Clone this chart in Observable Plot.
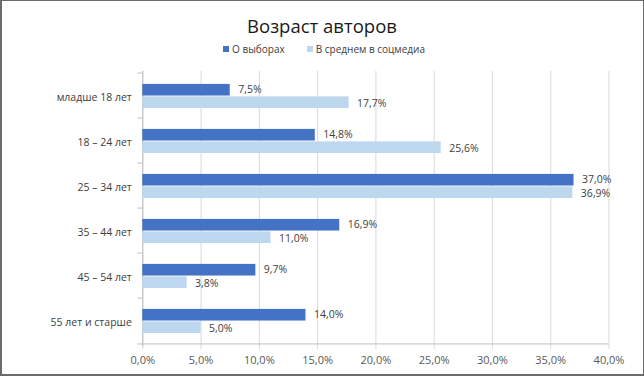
<!DOCTYPE html>
<html>
<head>
<meta charset="utf-8">
<script src="https://cdn.jsdelivr.net/npm/d3@7"></script>
<script src="https://cdn.jsdelivr.net/npm/@observablehq/plot@0.6"></script>
<style>
  html, body { margin: 0; padding: 0; background: #fff; }
  #wrap { position: relative; width: 644px; height: 376px; overflow: hidden; font-family: "Open Sans", sans-serif; background: #fff; }
  #frame { position: absolute; left: 0; top: 0; right: 0; bottom: 0; box-sizing: border-box;
           border-style: solid; border-color: #6b6b6b; border-width: 1px 1px 2px 2px; pointer-events: none; }
  #title { position: absolute; left: 0; width: 644px; top: 14px; text-align: center; font-size: 18.5px; color: #1a1a1a; line-height: 24px; }
  #legend { position: absolute; left: 2px; width: 644px; top: 41px; text-align: center; font-size: 10px; color: #404040; line-height: 16px; }
  #legend span.item { display: inline-block; margin: 0 11px; }
  #legend span.sw { display: inline-block; width: 6px; height: 6px; margin-right: 3px; vertical-align: 1px; }
  #chart { position: absolute; left: 0; top: 60px; }
</style>
</head>
<body>
<div id="wrap">
  <div id="title"></div>
  <div id="legend"></div>
  <div id="chart"></div>
  <div id="frame"></div>
</div>
<script>
const titleText = "Возраст авторов";
const categories = ["младше 18 лет", "18 – 24 лет", "25 – 34 лет", "35 – 44 лет", "45 – 54 лет", "55 лет и старше"];
const seriesNames = ["О выборах", "В среднем в соцмедиа"];
const vybory = [7.5, 14.8, 37.0, 16.9, 9.7, 14.0];
const socmedia = [17.7, 25.6, 36.9, 11.0, 3.8, 5.0];
const xTicks = [0, 5, 10, 15, 20, 25, 30, 35, 40];
const colors = ["#4472C4", "#BDD7EE"];

const fmt = v => v.toFixed(1).replace(".", ",") + "%";

const data = categories.flatMap((c, i) => [
  {cat: c, series: seriesNames[0], value: vybory[i]},
  {cat: c, series: seriesNames[1], value: socmedia[i]}
]);
const s0 = data.filter(d => d.series === seriesNames[0]);
const s1 = data.filter(d => d.series === seriesNames[1]);

document.getElementById("title").textContent = titleText;
document.getElementById("legend").innerHTML = seriesNames.map((s, i) =>
  `<span class="item"><span class="sw" style="background:${colors[i]}"></span>${s}</span>`).join("");

const W = 644, H = 316, mTop = 10.8, mBottom = 30, mLeft = 142.3, mRight = 35.5;
const band = (H - mTop - mBottom) / categories.length;
const gapTop = 10.9, barH = 12.5;

const chart = Plot.plot({
  width: W, height: H,
  marginTop: mTop, marginBottom: mBottom, marginLeft: mLeft, marginRight: mRight,
  style: {fontFamily: "'Open Sans', sans-serif", fontSize: "10.5px", color: "#404040", background: "transparent"},
  x: {domain: [0, 40], label: null},
  y: {domain: categories, padding: 0, label: null},
  color: {domain: seriesNames, range: colors},
  marks: [
    Plot.gridX({ticks: xTicks, stroke: "#d9d9d9", strokeOpacity: 1}),
    Plot.ruleX([0], {stroke: "#bfbfbf"}),
    Plot.ruleY([categories[categories.length - 1]], {x1: 0, x2: 40, dy: band / 2, stroke: "#bfbfbf"}),
    Plot.ruleY(categories, {x1: 0, x2: 0, insetLeft: -5, dy: -band / 2, stroke: "#bfbfbf"}),
    Plot.ruleY([categories[categories.length - 1]], {x1: 0, x2: 0, insetLeft: -5, dy: band / 2, stroke: "#bfbfbf"}),
    Plot.barX(s0, {x: "value", y: "cat", fill: "series", insetTop: gapTop, insetBottom: band - gapTop - barH}),
    Plot.barX(s1, {x: "value", y: "cat", fill: "series", insetTop: gapTop + barH, insetBottom: band - gapTop - 2 * barH}),
    Plot.text(s0, {x: "value", y: "cat", text: d => fmt(d.value), textAnchor: "start", dx: 8, dy: gapTop + barH / 2 - band / 2 - 0.8, fill: "#404040", fontSize: 10.5}),
    Plot.text(s1, {x: "value", y: "cat", text: d => fmt(d.value), textAnchor: "start", dx: 8, dy: gapTop + 1.5 * barH - band / 2 + 1, fill: "#404040", fontSize: 10.5}),
    Plot.axisY({tickSize: 0, tickPadding: 11, fill: "#404040", dy: 1.5}),
    Plot.axisX({ticks: xTicks, tickFormat: fmt, tickSize: 3, tickPadding: 7, stroke: "#d9d9d9", fill: "#595959", fontSize: 11})
  ]
});
document.getElementById("chart").appendChild(chart);
</script>
</body>
</html>
